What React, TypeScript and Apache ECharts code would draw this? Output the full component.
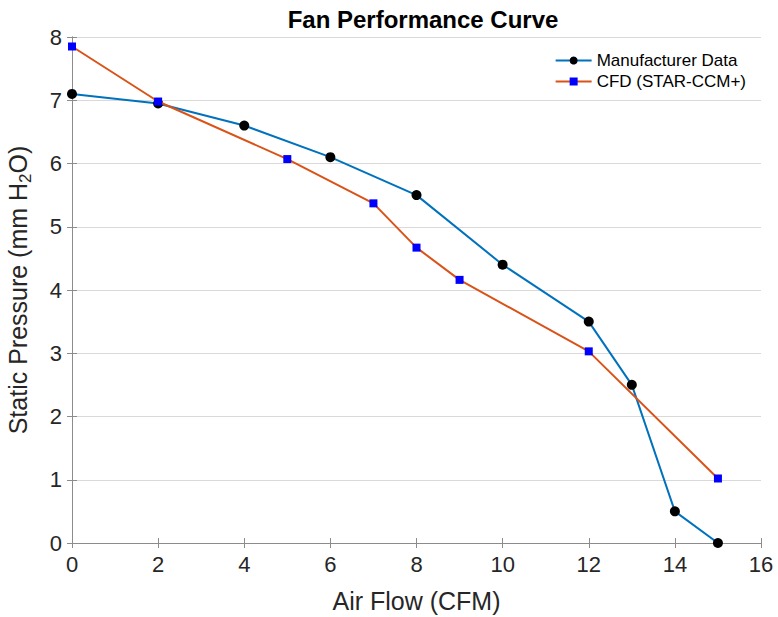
import React, { useEffect, useRef } from "react";
import * as echarts from "echarts";

const mfrFlow = [0, 2, 4, 6, 8, 10, 12, 13, 14, 15];
const mfrPressure = [7.1, 6.95, 6.6, 6.1, 5.5, 4.4, 3.5, 2.5, 0.5, 0];
const cfdFlow = [0, 2, 5, 7, 8, 9, 12, 15];
const cfdPressure = [7.85, 6.98, 6.07, 5.37, 4.67, 4.16, 3.03, 1.02];
const seriesNames = ["Manufacturer Data", "CFD (STAR-CCM+)"];

const FONT = "'Liberation Sans', Arial, sans-serif";

export default function App() {
  const ref = useRef<HTMLDivElement>(null);
  useEffect(() => {
    const chart = echarts.init(ref.current!, null, { renderer: "svg" });
    const axisCommon = {
      min: 0,
      axisLine: { show: true, lineStyle: { color: "#8c8c8c", width: 1 } },
      axisTick: { show: true, inside: true, length: 5, lineStyle: { color: "#8c8c8c" } },
    };
    chart.setOption({
      animation: false,
      backgroundColor: "#fff",
      title: {
        text: "Fan Performance Curve",
        left: 418,
        textAlign: "center",
        top: 2,
        textStyle: { fontFamily: FONT, fontWeight: "bold", fontSize: 24, color: "#000" },
      },
      legend: {
        orient: "vertical",
        right: 27,
        top: 47,
        itemWidth: 36,
        itemHeight: 10,
        itemGap: 4,
        textStyle: { fontFamily: FONT, fontSize: 17, color: "#000" },
        data: seriesNames,
      },
      grid: { left: 72, right: 17, top: 37, bottom: 74, show: false, outerBoundsMode: "none", containLabel: false },
      xAxis: [
        {
          ...axisCommon,
          type: "value",
          max: 16,
          interval: 2,
          position: "bottom",
          splitLine: { show: false },
          axisLabel: { fontFamily: FONT, fontSize: 22, color: "#262626", margin: 10 },
          name: "Air Flow (CFM)",
          nameLocation: "middle",
          nameGap: 45,
          nameTextStyle: { fontFamily: FONT, fontSize: 25, color: "#262626" },
        },
        {
          ...axisCommon,
          type: "value",
          max: 16,
          interval: 2,
          position: "top",
          splitLine: { show: false },
          axisLabel: { show: false },
        },
      ],
      yAxis: [
        {
          ...axisCommon,
          type: "value",
          max: 8,
          interval: 1,
          position: "left",
          splitLine: { show: true, lineStyle: { color: "#d9d9d9", width: 1 } },
          axisLabel: { fontFamily: FONT, fontSize: 22, color: "#262626", margin: 10 },
          name: "Static Pressure (mm H{sub|2}O)",
          nameLocation: "middle",
          nameGap: 38,
          nameRotate: 90,
          nameTextStyle: {
            fontFamily: FONT,
            fontSize: 25,
            color: "#262626",
            rich: {
              sub: { fontFamily: FONT, fontSize: 17, color: "#262626", padding: [15, 0, 0, 0] },
            },
          },
        },
        {
          ...axisCommon,
          type: "value",
          max: 8,
          interval: 1,
          position: "right",
          splitLine: { show: false },
          axisLabel: { show: false },
        },
      ],
      series: [
        {
          name: seriesNames[0],
          type: "line",
          data: mfrFlow.map((x, i) => [x, mfrPressure[i]]),
          lineStyle: { color: "#0072BD", width: 2 },
          itemStyle: { color: "#000" },
          symbol: "circle",
          symbolSize: 10,
          z: 2,
        },
        {
          name: seriesNames[1],
          type: "line",
          data: cfdFlow.map((x, i) => [x, cfdPressure[i]]),
          lineStyle: { color: "#D95319", width: 2 },
          itemStyle: { color: "#0000FF" },
          symbol: "rect",
          symbolSize: 8,
          z: 3,
        },
      ],
    });
    return () => chart.dispose();
  }, []);
  return <div ref={ref} style={{ width: 778, height: 617, position: "absolute", left: 0, top: 0 }} />;
}
